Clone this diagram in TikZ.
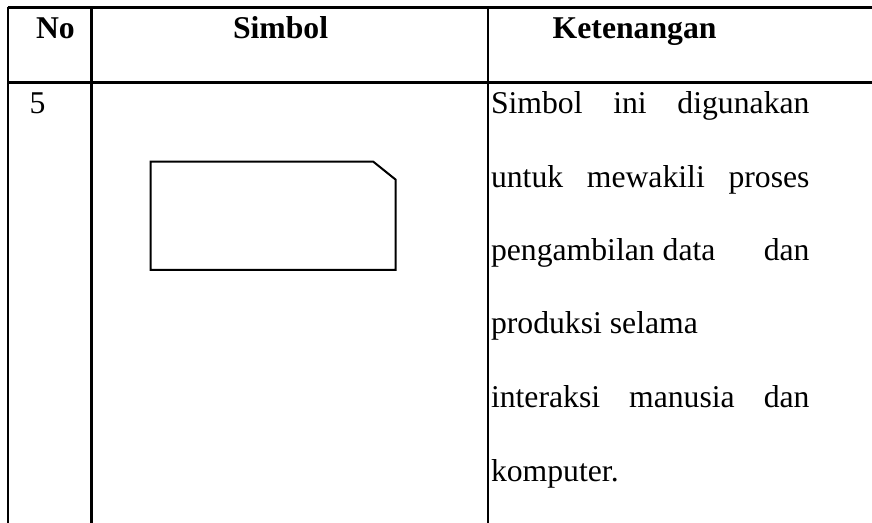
\documentclass[tikz,border=0pt]{standalone}
\usepackage{fontspec}
\setmainfont{Liberation Serif}
\tikzset{
  txt/.style={anchor=base west,inner sep=0pt,outer sep=0pt,font=\fontsize{15.85}{19}\selectfont},
  head/.style={txt,font=\fontsize{15.85}{19}\selectfont\bfseries},
  rule/.style={line width=1.25pt},
  symb/.style={line width=1pt,line join=miter}
}
\newcommand{\linew}{159.25pt}
\begin{document}
\begin{tikzpicture}[x=0.5pt,y=-0.5pt]
	\useasboundingbox (0,0) rectangle (872,523);
	\draw[rule] (7.5,7.5) -- (872,7.5);
	\draw[rule] (7.5,82.3) -- (872,82.3);
	\draw[rule] (7.8,7.5) -- (7.8,523);
	\draw[rule] (91.7,7.5) -- (91.7,523);
	\draw[rule] (487.8,7.5) -- (487.8,523);
	\node[head] (hno) at (36,38.3) {No};
	\node[head] (hsimbol) at (233,38.3) {Simbol};
	\node[head] (hket) at (552.7,38.3) {Ketenangan};
	\node[txt] (no) at (29.7,114) {5};
	\draw[symb] (150.7,161.7) -- (373.3,161.7) -- (395.5,179.5) -- (395.5,270) -- (150.7,270) -- cycle;
	\node[txt] (l1) at (491,114) {\makebox[\linew][s]{Simbol ini digunakan}};
	\node[txt] (l2) at (491,187.3) {\makebox[\linew][s]{untuk mewakili proses}};
	\node[txt] (l3) at (491,260.7) {\makebox[\linew][l]{pengambilan data\hfill dan}};
	\node[txt] (l4) at (491,334) {produksi selama};
	\node[txt] (l5) at (491,407.8) {\makebox[\linew][s]{interaksi manusia dan}};
	\node[txt] (l6) at (491,481.5) {komputer.};
\end{tikzpicture}
\end{document}
